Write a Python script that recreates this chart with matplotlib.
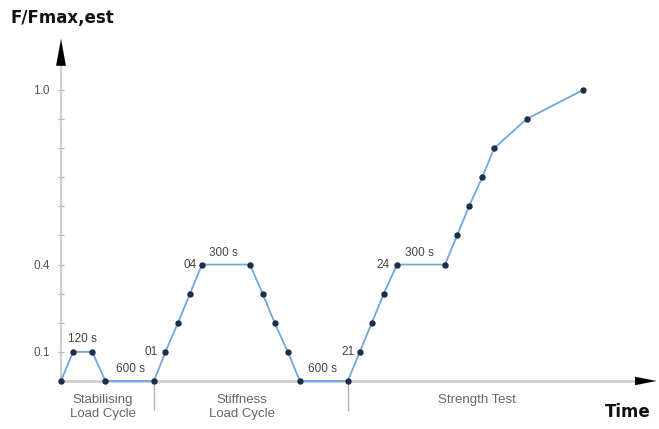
import matplotlib
matplotlib.use("Agg")
import matplotlib.pyplot as plt

# load protocol: time steps (arbitrary units) and force level F/Fmax,est
time = [0, 1, 2.6, 3.7, 7.75,
        8.7, 9.75, 10.75, 11.75, 15.75, 16.8, 17.8, 18.9, 19.9, 23.9,
        24.9, 25.9, 26.9, 28, 32, 33, 34, 35.1, 36.1, 38.8, 43.5]
force = [0, 0.1, 0.1, 0, 0,
         0.1, 0.2, 0.3, 0.4, 0.4, 0.3, 0.2, 0.1, 0, 0,
         0.1, 0.2, 0.3, 0.4, 0.4, 0.5, 0.6, 0.7, 0.8, 0.9, 1.0]

ytick_major = [0.1, 0.4, 1.0]
ytick_labels = ["0.1", "0.4", "1.0"]
ytick_minor = [0.2, 0.3, 0.5, 0.6, 0.7, 0.8, 0.9]

# step annotations: (text, t, F, ha)
notes = [("120 s", 1.75, 0.145, "center"),
         ("600 s", 5.75, 0.042, "center"),
         ("01", 8.1, 0.1, "right"),
         ("04", 11.35, 0.4, "right"),
         ("300 s", 13.5, 0.44, "center"),
         ("600 s", 21.8, 0.042, "center"),
         ("21", 24.5, 0.1, "right"),
         ("24", 27.4, 0.4, "right"),
         ("300 s", 29.9, 0.44, "center")]

phases = [("Stabilising\nLoad Cycle", 3.5),
          ("Stiffness\nLoad Cycle", 15.1),
          ("Strength Test", 34.7)]
phase_bounds = [7.75, 23.9]

fig = plt.figure(figsize=(6.59, 4.29), dpi=100)
ax = fig.add_axes([0, 0, 1, 1])
ax.set_xlim(-5.083, 49.83)
ax.set_ylim(-0.165, 1.309)

axis_grey = "#cfcfcf"
for s in ["top", "right"]:
    ax.spines[s].set_visible(False)
ax.spines["left"].set_position(("data", 0))
ax.spines["bottom"].set_position(("data", 0))
ax.spines["left"].set_bounds(0, 1.10)
ax.spines["bottom"].set_bounds(0, 48.0)
ax.spines["left"].set_color(axis_grey)
ax.spines["bottom"].set_color(axis_grey)
ax.spines["left"].set_linewidth(1.6)
ax.spines["bottom"].set_linewidth(2.0)

ax.set_xticks([])
ax.set_yticks(ytick_major)
ax.set_yticklabels(ytick_labels)
ax.set_yticks(ytick_minor, minor=True)
ax.tick_params(axis="y", which="both", direction="inout", length=4,
               width=0.8, color="#aaaaaa", labelsize=8.5, labelcolor="#555555", pad=6)
for lbl in ax.get_yticklabels():
    lbl.set_family("Liberation Sans")

# axis arrowheads
ax.annotate("", xy=(0, 1.175), xytext=(0, 1.09),
            arrowprops=dict(arrowstyle="-|>,head_length=1.9,head_width=0.35",
                            color="black", lw=0.1, shrinkA=0, shrinkB=0))
ax.annotate("", xy=(49.6, 0), xytext=(47.9, 0),
            arrowprops=dict(arrowstyle="-|>,head_length=1.5,head_width=0.3",
                            color="black", lw=0.1, shrinkA=0, shrinkB=0))

# phase separators
for t in phase_bounds:
    ax.plot([t, t], [0, -0.10], color="#b5b5b5", lw=1.0, zorder=1)

ax.plot(time, force, color="#6fa8dc", lw=1.3, marker="o", markersize=3.6,
        markerfacecolor="#1f2d4a", markeredgecolor="#1f2d4a", zorder=3,
        clip_on=False)

for txt, t, f, ha in notes:
    ax.text(t, f, txt, ha=ha, va="center", fontsize=8.5, color="#444444",
            family="Liberation Sans")

for txt, t in phases:
    ax.text(t, -0.045, txt, ha="center", va="top", fontsize=9.5,
            color="#666666", family="Liberation Sans", linespacing=1.25)

ax.text(0.1, 1.247, "F/Fmax,est", ha="center", va="center", fontsize=12,
        fontweight="bold", color="#111111")
ax.text(47.2, -0.107, "Time", ha="center", va="center", fontsize=12,
        fontweight="bold", color="#111111")

fig.savefig("out.png", dpi=100)
